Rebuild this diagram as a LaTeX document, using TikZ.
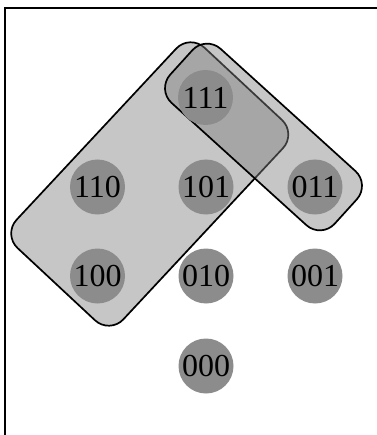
\documentclass[tikz,border=0pt]{standalone}
\usepackage{fontspec}
\setmainfont{Liberation Serif}
\begin{document}
\begin{tikzpicture}[x=1pt,y=-1pt,
  groupbox/.style={draw=black, line width=1.7pt, rounded corners=20pt,
    fill=black!50, fill opacity=0.45, inner sep=0pt},
  state/.style={circle, fill=black!45, minimum size=55pt, inner sep=0pt,
    font=\fontsize{32}{32}\selectfont, text=black}]
\useasboundingbox (0,0) rectangle (376,435);
% frame (only top and left edges visible)
\coordinate (fbl) at (5,437);
\coordinate (ftl) at (5,8);
\coordinate (ftr) at (378,8);
\draw[line width=2pt, black] (fbl) -- (ftl) -- (ftr);
% group boxes
\node[groupbox, minimum width=274pt, minimum height=146pt, rotate=47] (bigbox) at (149.75,184) {};
\node[groupbox, minimum width=222pt, minimum height=73pt, rotate=-42.2] (smallbox) at (263.5,137) {};
% states
\node[state] (s111) at (205.5,97.5) {111};
\node[state] (s110) at (97.5,187) {110};
\node[state] (s101) at (206,187) {101};
\node[state] (s011) at (315,187) {011};
\node[state] (s100) at (97.5,276) {100};
\node[state] (s010) at (206,276) {010};
\node[state] (s001) at (315,276) {001};
\node[state] (s000) at (206,366) {000};
\end{tikzpicture}
\end{document}
